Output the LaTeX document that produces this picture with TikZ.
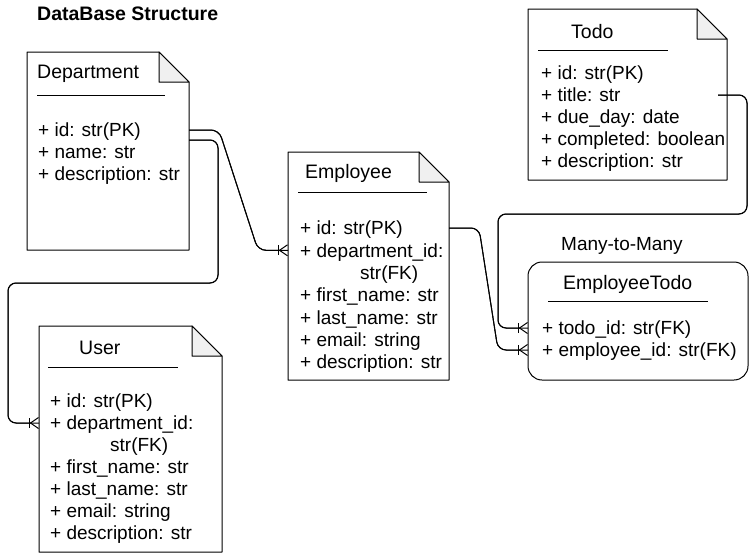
\documentclass[tikz,border=0pt]{standalone}
\usepackage{fontspec}
\setmainfont{Liberation Sans}
\usetikzlibrary{arrows.meta}

\begin{document}
\begin{tikzpicture}[
        x=1pt, y=-1pt,
        entity/.style={rectangle, anchor=north west, inner sep=0pt, outer sep=0pt},
        fold/.style={draw=black, fill=gray!12, line width=1pt, line join=round},
        title/.style={anchor=west, inner sep=0pt, text height=14pt, text depth=0pt, font=\fontsize{19.5}{22}\selectfont},
        attr/.style={anchor=west, inner sep=0pt, text height=13.7pt, text depth=0pt, font=\fontsize{19}{22}\selectfont},
        hline/.style={line width=1pt},
        rel/.style={line width=1pt, rounded corners=8pt, -{Bar[width=10pt] Straight Barb[reversed, length=8pt, width=11pt]}, postaction={draw, arrows=-}}
    ]
        \useasboundingbox (0,0) rectangle (756,557);

        % boxes
        \node[entity, minimum width=162pt, minimum height=198pt] (dept) at (27,52) {};
        \node[entity, minimum width=161pt, minimum height=228pt] (emp) at (288,152) {};
        \node[entity, minimum width=183pt, minimum height=226pt] (user) at (39,326) {};
        \node[entity, minimum width=199pt, minimum height=171pt] (todo) at (528,9) {};
        \node[entity, draw, line width=1pt, rounded corners=14pt, minimum width=220pt, minimum height=118pt] (et) at (528,262) {};

        \foreach \n in {dept,emp,user,todo} {
            \draw[line width=1pt, line join=round] (\n.north west) -- ([xshift=-30pt]\n.north east) -- ([yshift=-30pt]\n.north east) -- (\n.south east) -- (\n.south west) -- cycle;
            \filldraw[fold] ([xshift=-30pt]\n.north east) -- ([xshift=-30pt,yshift=-30pt]\n.north east) -- ([yshift=-30pt]\n.north east) -- cycle;
        }

        % titles
        \node[anchor=west, inner sep=0pt, text height=14pt, text depth=0pt, font=\fontsize{19.5}{22}\selectfont\bfseries] (head) at (37,13) {DataBase Structure};
        \node[title] (dept-title) at (37,71) {Department};
        \node[title] (emp-title) at (305,171) {Employee};
        \node[title] (user-title) at (79,347) {User};
        \node[title] (todo-title) at (571,31) {Todo};
        \node[title] (et-title) at (563,282) {EmployeeTodo};
        \node[attr] (m2m) at (561,244) {Many-to-Many};

        \draw[hline] (37,95) -- (165,95);
        \draw[hline] (298,192) -- (427,192);
        \draw[hline] (48,367) -- (178,367);
        \draw[hline] (538,50) -- (668,50);
        \draw[hline] (548,301) -- (708,301);

        % attributes
        \foreach \t [count=\i] in {+ id: str(PK), + name: str, + description: str}
            \node[attr] (dept-\i) at (38,{130+22*(\i-1)}) {\t};
        \foreach \t [count=\i] in {+ id: str(PK), + department\_id:, \hspace*{60pt}str(FK), + first\_name: str, + last\_name: str, + email: string, + description: str}
            \node[attr] (emp-\i) at (300,{228+22.3*(\i-1)}) {\t};
        \foreach \t [count=\i] in {+ id: str(PK), + department\_id:, \hspace*{60pt}str(FK), + first\_name: str, + last\_name: str, + email: string, + description: str}
            \node[attr] (user-\i) at (50,{401+22*(\i-1)}) {\t};
        \foreach \t [count=\i] in {+ id: str(PK), + title: str, + due\_day: date, + completed: boolean, + description: str}
            \node[attr] (todo-\i) at (541,{73+22*(\i-1)}) {\t};
        \foreach \t [count=\i] in {+ todo\_id: str(FK), + employee\_id: str(FK)}
            \node[attr] (et-\i) at (542,{328+22*(\i-1)}) {\t};

        % relations
        \draw[rel] (dept.east |- dept-1) -- ++(30,0) -- ([xshift=-30pt]emp.west |- emp-2) -- (emp.west |- emp-2);
        \draw[rel] ([yshift=-10pt]dept.east |- dept-1) -- ++(29,0) -- ++(0,143) -| ([xshift=-31pt]user.west |- user-2) -- (user.west |- user-2);
        \draw[rel] (emp.east |- emp-1) -- ++(30,0) -- ([xshift=-30pt]et.west |- et-2) -- (et.west |- et-2);
        \draw[rel] ([xshift=-9pt]todo.east |- todo-2) -- ++(29,0) -- ++(0,119) -| ([xshift=-30pt]et.west |- et-1) -- (et.west |- et-1);
    \end{tikzpicture}
\end{document}
